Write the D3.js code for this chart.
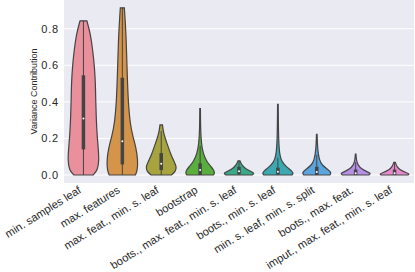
<!DOCTYPE html>
<html>
<head>
<meta charset="utf-8">
<script src="https://cdn.jsdelivr.net/npm/d3@7"></script>
<style>
  body { margin: 0; background: #fff; }
  text { font-family: "Liberation Sans", Arial, sans-serif; fill: #262626; }
</style>
</head>
<body>
<div id="canvas"></div>
<script>
const categories = [
  'min. samples leaf', 'max. features', 'max. feat., min. s. leaf', 'bootstrap',
  'boots., max. feat., min. s. leaf', 'boots., min. s. leaf', 'min. s. leaf, min. s. split',
  'boots., max. feat.', 'imput., max. feat., min. s. leaf'
];
const colors = ['#e9909c', '#d4954a', '#a7a33e', '#5aae3d', '#3aa98a', '#3ba8b2', '#58a5e0', '#b590e6', '#e78ad0'];

// density profiles: [value, relative width]
const density1 = [[0, 0.62], [0.027, 0.92], [0.082, 1.0], [0.136, 0.96], [0.227, 0.87], [0.318, 0.82], [0.409, 0.79], [0.5, 0.77], [0.59, 0.71], [0.681, 0.6], [0.772, 0.45], [0.843, 0.22]];
const density2 = [[0, 0.84], [0.027, 0.97], [0.08, 1.0], [0.15, 0.88], [0.21, 0.68], [0.28, 0.5], [0.41, 0.37], [0.59, 0.3], [0.77, 0.24], [0.914, 0.13]];
const density3 = [[0, 0.65], [0.018, 0.92], [0.045, 0.99], [0.072, 0.84], [0.118, 0.59], [0.173, 0.37], [0.227, 0.15], [0.274, 0.08]];
const density4 = [[0, 0.84], [0.009, 0.94], [0.027, 0.88], [0.045, 0.71], [0.072, 0.43], [0.118, 0.19], [0.173, 0.08], [0.25, 0.03], [0.363, 0.02]];
const density5 = [[0, 0.84], [0.009, 1.0], [0.018, 0.81], [0.036, 0.39], [0.054, 0.18], [0.078, 0.06]];
const density6 = [[0, 0.9], [0.009, 1.0], [0.022, 0.9], [0.045, 0.54], [0.072, 0.27], [0.1, 0.13], [0.18, 0.04], [0.387, 0.02]];
const density7 = [[0, 0.84], [0.013, 0.95], [0.031, 0.7], [0.054, 0.34], [0.082, 0.16], [0.14, 0.05], [0.223, 0.02]];
const density8 = [[0, 0.84], [0.009, 0.99], [0.016, 0.77], [0.031, 0.41], [0.054, 0.13], [0.085, 0.04], [0.114, 0.02]];
const density9 = [[0, 0.84], [0.005, 0.97], [0.013, 0.75], [0.027, 0.37], [0.045, 0.15], [0.069, 0.05]];
const densities = [density1, density2, density3, density4, density5, density6, density7, density8, density9];

// box stats: q1, median, q3, whisker low, whisker high
const q1 = [0.14, 0.058, 0.027, 0.0, 0.005, 0.003, 0.0, 0.0, 0.0];
const medians = [0.309, 0.184, 0.062, 0.027, 0.02, 0.018, 0.016, 0.01, 0.01];
const q3 = [0.545, 0.532, 0.12, 0.064, 0.045, 0.04, 0.045, 0.03, 0.03];
const whiskLo = [0, 0, 0, 0, 0, 0, 0, 0, 0];
const whiskHi = [0.843, 0.914, 0.24, 0.16, 0.078, 0.095, 0.11, 0.07, 0.069];

const yTicks = [0, 0.2, 0.4, 0.6, 0.8];

const W = 415, H = 272;
const MARGIN = { LEFT: 64, RIGHT: 1, TOP: 0, BOTTOM: 89 };
const WIDTH = W - MARGIN.LEFT - MARGIN.RIGHT;
const HEIGHT = H - MARGIN.TOP - MARGIN.BOTTOM;

const svg = d3.select('#canvas').append('svg')
  .attr('width', W)
  .attr('height', H);

const g = svg.append('g')
  .attr('transform', `translate(${MARGIN.LEFT}, ${MARGIN.TOP})`);

g.append('rect')
  .attr('width', WIDTH)
  .attr('height', HEIGHT)
  .attr('fill', '#eaeaf2');

const y = d3.scaleLinear()
  .domain([-0.0437, 0.957])
  .range([HEIGHT, 0]);

const x = d3.scaleBand()
  .domain(categories)
  .range([0, WIDTH]);

const w = d3.scaleLinear()
  .domain([0, 1])
  .range([0, x.bandwidth() * 0.4]);

// grid
g.selectAll('.grid')
  .data(yTicks)
  .enter().append('line')
  .attr('x1', 0).attr('x2', WIDTH)
  .attr('y1', d => y(d)).attr('y2', d => y(d))
  .attr('stroke', '#fff')
  .attr('stroke-width', 1);

// y axis
const yAxis = g.append('g')
  .call(d3.axisLeft(y).tickValues(yTicks).tickFormat(d3.format('.1f')).tickSize(0).tickPadding(5));
yAxis.select('.domain').remove();
yAxis.selectAll('text')
  .attr('font-size', 11)
  .attr('letter-spacing', 0.8)
  .attr('font-family', '"Liberation Sans", Arial, sans-serif')
  .attr('fill', '#262626');

svg.append('text')
  .attr('transform', `translate(36.5, ${HEIGHT / 2}) rotate(-90)`)
  .attr('text-anchor', 'middle')
  .attr('font-size', 9)
  .text('Variance Contribution');

// x labels
g.selectAll('.xlabel')
  .data(categories)
  .enter().append('text')
  .attr('text-anchor', 'end')
  .attr('font-size', 11.2)
  .attr('transform', d => `translate(${x(d) + x.bandwidth() / 2 - 1.5}, 192) rotate(-32)`)
  .text(d => d);

// violins
const area = d3.area()
  .y(d => y(d[0]))
  .curve(d3.curveBasis);

const violins = g.selectAll('.violin')
  .data(categories)
  .enter().append('g')
  .attr('transform', d => `translate(${x(d) + x.bandwidth() / 2}, 0)`);

violins.append('path')
  .attr('d', (d, i) => area.x0(p => -w(p[1])).x1(p => w(p[1]))(densities[i]))
  .attr('fill', (d, i) => colors[i])
  .attr('stroke', '#444')
  .attr('stroke-width', 1.2);

violins.append('line')
  .attr('y1', (d, i) => y(whiskLo[i]))
  .attr('y2', (d, i) => y(whiskHi[i]))
  .attr('stroke', '#444')
  .attr('stroke-width', 1);

violins.append('line')
  .attr('y1', (d, i) => y(q1[i]))
  .attr('y2', (d, i) => y(q3[i]))
  .attr('stroke', '#444')
  .attr('stroke-width', 3.5);

violins.append('circle')
  .attr('cy', (d, i) => y(medians[i]))
  .attr('r', 1)
  .attr('fill', '#fff');
</script>
</body>
</html>
